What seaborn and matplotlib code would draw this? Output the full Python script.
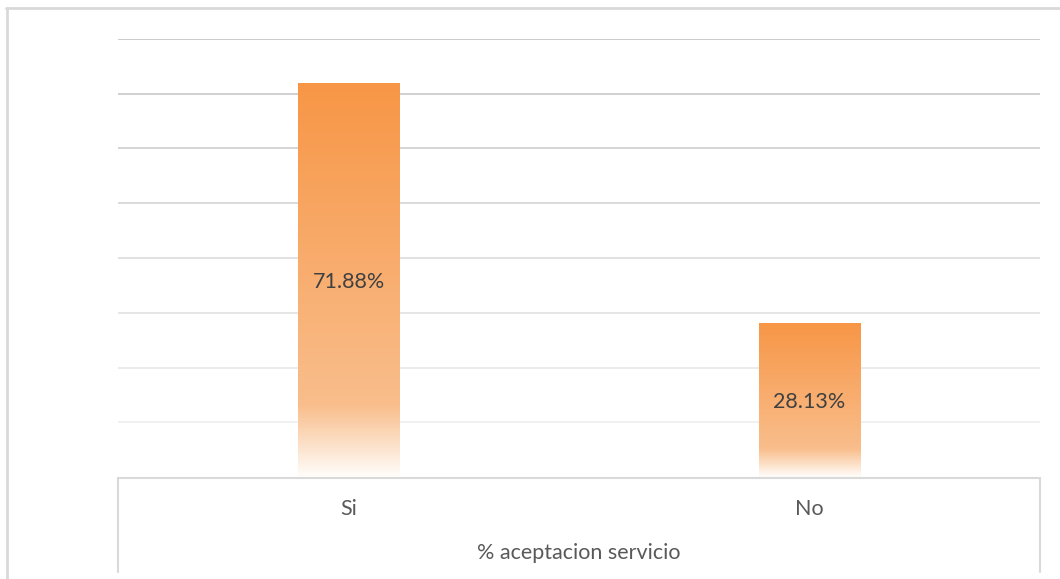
import numpy as np
import pandas as pd
import matplotlib
matplotlib.use("Agg")
import matplotlib.pyplot as plt
from matplotlib.lines import Line2D
import seaborn as sns

categories = ["Si", "No"]
percentages = [71.88, 28.13]
axis_title = "% aceptacion servicio"

sns.set_theme(style="white")
plt.rcParams["font.family"] = ["Lato", "DejaVu Sans"]

W, H = 1060, 579
fig = plt.figure(figsize=(W / 100, H / 100), dpi=100)
ax = fig.add_axes([118 / W, (H - 477) / H, (1040 - 118) / W, (477 - 39) / H])

df = pd.DataFrame({"cat": categories, "pct": percentages})
sns.barplot(data=df, x="cat", y="pct", ax=ax, width=0.22, color="#F79646",
            edgecolor="none", zorder=3)

ax.set_ylim(0, 80)
ax.set_yticks(np.arange(10, 81, 10))
ax.set_yticklabels([])
ax.tick_params(axis="both", length=0)
ax.set_xticklabels([])
ax.set_xlabel("")
ax.set_ylabel("")
for s in ax.spines.values():
    s.set_visible(False)

# horizontal gridlines, lighter toward the bottom
ax.yaxis.grid(True, linewidth=1.2, zorder=0)
ax.set_axisbelow(True)
grid_lines = ax.yaxis.get_gridlines()
n = len(grid_lines)
for i, gl in enumerate(grid_lines):
    g = 0.93 - 0.17 * (i / max(n - 1, 1))
    gl.set_color((g, g, g))

# vertical gradient fill: orange at top fading to white at the base
top = np.array([247, 150, 70]) / 255
mid = np.array([249, 190, 140]) / 255
white = np.array([255, 253, 250]) / 255
t = np.linspace(0, 1, 256)[:, None]  # 0 = bottom, 1 = top
col = np.where(t > 0.18,
               mid + (top - mid) * ((t - 0.18) / 0.82),
               white + (mid - white) * (t / 0.18))
grad = col[:, None, :] * np.ones((1, 2, 1))

for patch, val in zip(ax.patches, percentages):
    x0, w = patch.get_x(), patch.get_width()
    patch.set_facecolor("none")
    im = ax.imshow(grad, extent=[x0, x0 + w, 0, patch.get_height()],
                   origin="lower", aspect="auto", zorder=3,
                   interpolation="bilinear")
    im.set_clip_path(patch)
    ax.text(x0 + w / 2, val / 2 - 0.3, f"{val:.2f}%", ha="center", va="center",
            fontsize=15.5, color="#404040", zorder=4)

ax.set_xlim(-0.5, 1.5)

# category labels below the plot area
for i, c in enumerate(categories):
    ax.text(i, -0.073, c, transform=ax.get_xaxis_transform(), ha="center",
            va="center", fontsize=15.5, color="#595959")

fig.text(579 / W, 1 - 553 / H, axis_title, ha="center", va="center",
         fontsize=15.5, color="#595959")

# axis frame and outer chart border
line_col = "#D9D9D9"
def fline(xs, ys, lw=1.5):
    fig.add_artist(Line2D([x / W for x in xs], [1 - y / H for y in ys],
                          color=line_col, lw=lw, transform=fig.transFigure))

fline([118, 1040], [477.5, 477.5])
fline([118, 118], [477.5, 572])
fline([1040, 1040], [477.5, 572])
fline([6, 1060], [7.5, 7.5], lw=2)
fline([6.5, 6.5], [7.5, 579], lw=2)

fig.savefig("out.png", dpi=100)
